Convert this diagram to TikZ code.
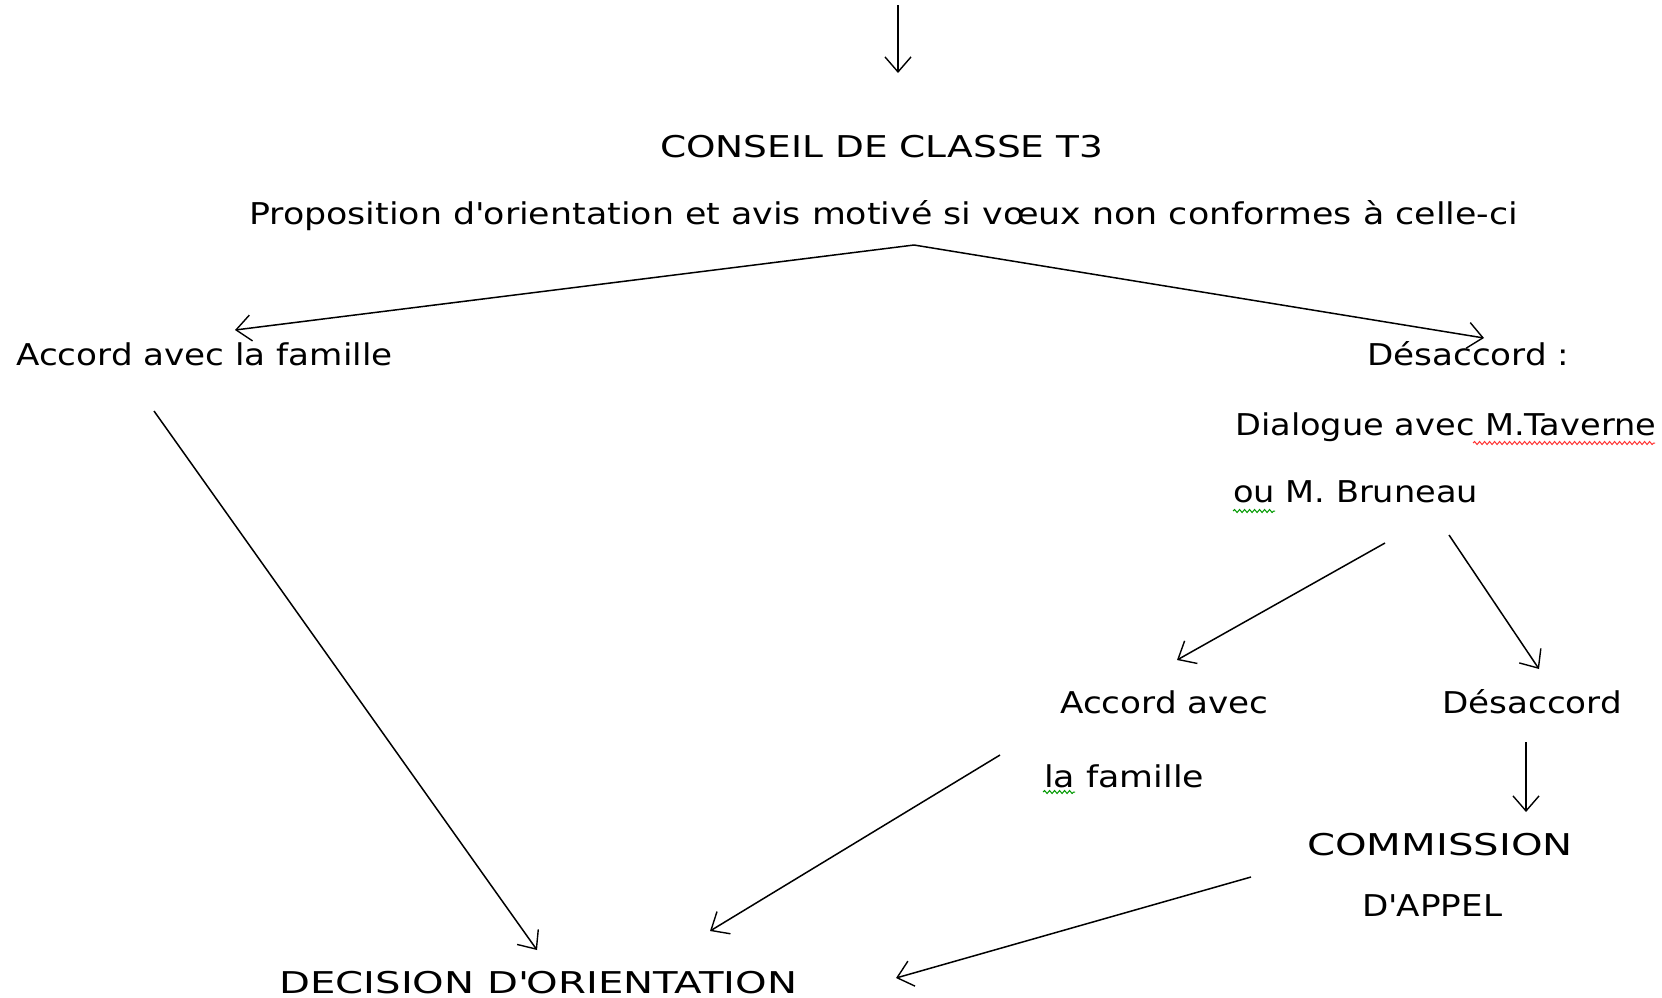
\documentclass[tikz,border=0pt]{standalone}
\usepackage{fontspec}
\setmainfont{DejaVu Sans}
\newfontfamily\fA[FakeStretch=1.14]{DejaVu Sans}
\newfontfamily\fAs[FakeStretch=1.12]{DejaVu Sans}
\newfontfamily\fAl[FakeStretch=1.16]{DejaVu Sans}
\newfontfamily\fB[FakeStretch=1.25]{DejaVu Sans}
\newfontfamily\fC[FakeStretch=1.34]{DejaVu Sans}
\usetikzlibrary{arrows.meta,decorations.pathmorphing}
\begin{document}
\begin{tikzpicture}[x=1pt,y=-1pt,
  txt/.style={anchor=base west,inner sep=0pt,font=\fontsize{30}{36}\selectfont\fA},
  conn/.style={line width=1.5pt,-{Straight Barb[length=15pt,width=26pt,line width=1.4pt]}},
  squig/.style={line width=1pt,decorate,decoration={snake,amplitude=1.5pt,segment length=5pt}}]
\useasboundingbox (0,0) rectangle (1662,997);
% text nodes
\node[txt,font=\fontsize{30}{36}\selectfont\fB] (conseil) at (660,157) {CONSEIL DE CLASSE T3};
\node[txt,font=\fontsize{30}{36}\selectfont\fAl] (prop) at (249,224) {Proposition d\textquotesingle orientation et avis motivé si vœux non conformes à celle-ci};
\node[txt] (accord1) at (16,365) {Accord avec la famille};
\node[txt] (desacc1) at (1367,365) {Désaccord :};
\node[txt,font=\fontsize{30}{36}\selectfont\fAs] (dial1) at (1235,435) {Dialogue avec M.Taverne};
\node[txt,font=\fontsize{30}{36}\selectfont\fAs] (dial2) at (1233,502) {ou M. Bruneau};
\node[txt] (accord2a) at (1060,713) {Accord avec};
\node[txt,font=\fontsize{30}{36}\selectfont\fAl] (accord2b) at (1044,787) {la famille};
\node[txt] (desacc2) at (1442,713) {Désaccord};
\node[txt,font=\fontsize{30}{36}\selectfont\fC] (comm1) at (1307,855) {COMMISSION};
\node[txt] (comm2) at (1362,916) {D\textquotesingle APPEL};
\node[txt,font=\fontsize{30}{36}\selectfont\fC] (decision) at (279,993) {DECISION D\textquotesingle ORIENTATION};
% connector end points
\coordinate (top0) at (898,5);
\coordinate (top1) at (898,73);
\coordinate (split) at (914,245);
\coordinate (accEnd) at (235,330);
\coordinate (desEnd) at (1484,338);
\coordinate (accStart) at (154,411);
\coordinate (decA) at (537,950);
\coordinate (dlgL) at (1385,543);
\coordinate (acc2End) at (1177,660);
\coordinate (dlgR) at (1449,535);
\coordinate (des2End) at (1539,669);
\coordinate (des2Start) at (1526,742);
\coordinate (commEnd) at (1526,812);
\coordinate (acc2Start) at (1000,755);
\coordinate (decB) at (710,931);
\coordinate (commStart) at (1251,877);
\coordinate (decC) at (896,978);
% connectors
\draw[conn] (top0) -- (top1);
\draw[conn] (split) -- (accEnd);
\draw[conn] (split) -- (desEnd);
\draw[conn] (accStart) -- (decA);
\draw[conn] (dlgL) -- (acc2End);
\draw[conn] (dlgR) -- (des2End);
\draw[conn] (des2Start) -- (commEnd);
\draw[conn] (acc2Start) -- (decB);
\draw[conn] (commStart) -- (decC);
% spell-check underlines
\draw[squig,red!80] (1473,443) -- (1655,443);
\draw[squig,green!60!black] (1233,511) -- (1275,511);
\draw[squig,green!60!black] (1043,792) -- (1075,792);
\end{tikzpicture}
\end{document}
